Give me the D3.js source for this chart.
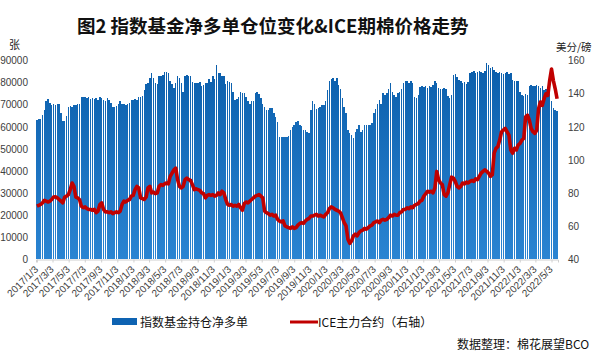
<!DOCTYPE html>
<html><head><meta charset="utf-8">
<script src="https://cdn.jsdelivr.net/npm/d3@7"></script>
<style>body{margin:0;background:#fff}svg{display:block}</style>
</head><body><svg id="c" width="601" height="353"></svg>
<script>
const startDate = "2017/1/3";
// weekly index-fund net long (contracts)
const netLong = [
63200,63500,63500,65400,67400,71800,72400,70700,70000,70200,70000,70500,70300,
66200,62700,62500,65000,69200,69500,69200,69800,70000,70200,70500,73300,73500,
73300,73000,73300,72800,73000,72500,73000,72000,73500,73000,72000,71500,73000,
72000,71000,69200,69000,69500,70500,71500,70500,70500,70000,70500,71000,72300,
72000,72500,72300,73300,73300,74000,76800,79500,80000,82100,84400,82000,80000,
79500,83000,83000,83500,84700,85000,84500,81000,79500,77700,80000,83000,82000,
80000,76000,83000,83500,83000,83000,80500,79800,79800,80000,80500,78500,79000,
79800,80000,81500,80500,83000,81500,88200,84500,84500,83000,83000,79500,81000,
80500,80000,76000,72300,72500,73500,76000,75500,75300,73500,71500,70500,71500,
71500,75300,76000,75000,73200,70500,69200,67700,67700,68500,68500,66300,64500,
62400,55400,55400,55200,55400,55400,55800,58600,60000,61000,62000,62500,61000,
60500,58600,58600,57800,57200,67700,71500,70500,68000,68500,69000,70000,70000,
71500,76800,80600,81800,82000,81000,82000,79100,77000,73200,69200,66300,58600,
57300,56400,55000,57800,59000,60900,57500,58600,61000,61000,61000,61000,61500,
66300,68000,70500,72300,70500,75300,74500,75300,77000,79800,76000,74500,73500,
75300,76000,77000,79800,80600,80600,80000,80600,80000,73500,73000,74500,78000,
78300,78000,78300,77700,78300,78000,79000,80600,80000,77500,77000,77000,77500,
77000,74000,73000,74500,83500,84000,82500,81400,81000,80000,80500,79500,80500,
84500,85000,85500,84500,85000,85500,85000,84500,85500,89000,88000,86500,87000,
86000,85000,84500,85000,84500,84000,84500,85000,84000,84500,81400,81000,80600,
80600,76000,74500,74000,75000,74500,78300,79000,78500,78300,79000,78500,77500,
78300,76800,77000,76800,78300,71500,68500,67700,67000];
// ICE front contract (cents/lb)
const icePrice = [
72,72.5,73,74,75.5,75,74.5,75,76,77.5,77.7,77,76,
75,74,77.5,78,79,82,86,84,77.5,77,76,72,71,
71.5,70.5,70,70,69.5,70,68,69,73,74,70,68.5,68.5,
68,68.5,67.5,68,68.5,68,69,73,75,74.5,75.5,76,78,
78.5,82,84,83,77,76.5,76,77.5,83,84,80,80.5,79.5,
80,84,85,84.5,85.5,86,85.5,90,92,94,95,88,84,
83,84,88,89,88,87.5,85,82,82.5,82,81.5,80,79.5,
77,78.5,79,78.5,79,78,78.5,80,79,81,80,76,73,
72.5,73,72,72.5,72,73,71,69.5,73.5,74.5,74,75,76,
77,78,78.5,79,78,77,69,68,67.5,66.5,67,66,66.5,
64,63,62.5,63,60,59.5,59,58.5,59.5,58.5,59,60.5,61.5,
62,61.5,63,64,64.5,66,66,66.5,67,66,66.5,66,65.5,
67,68,70.5,71.5,71,70,69.5,69,68,65,62,60,52,
49.5,51,54,55,54,56,57,57.5,58.5,58,59,60,60.5,
62,62.5,63,62,63.5,64,63.5,64,65,66.5,66,67,66.5,
66.5,68,68.5,70,70,71,70.5,71.5,71,72.5,73,73.5,75,
75.5,78,79.5,81,80.5,81,80,83,93,88,86,85,79,
78,80,85,89.5,89,87,84,83,84,86,85.5,86.5,86,
87,87.5,87,88.5,88,90,92,93,94,93,92,90,91,
104,107,108,112,117,118,119,117,115,106,104,107,106,
109,110,112,113,126,127,124,119,117,116,118,131,135,
133,137,140,139,148,155,148,143,137];
const tickLabels = [
"2017/1/3","2017/3/3","2017/5/3","2017/7/3","2017/9/3","2017/11/3",
"2018/1/3","2018/3/3","2018/5/3","2018/7/3","2018/9/3","2018/11/3",
"2019/1/3","2019/3/3","2019/5/3","2019/7/3","2019/9/3","2019/11/3",
"2020/1/3","2020/3/3","2020/5/3","2020/7/3","2020/9/3","2020/11/3",
"2021/1/3","2021/3/3","2021/5/3","2021/7/3","2021/9/3","2021/11/3",
"2022/1/3","2022/3/3","2022/5/3"];
const leftTicks = [0,10000,20000,30000,40000,50000,60000,70000,80000,90000];
const rightTicks = [40,60,80,100,120,140,160];

const parse = d3.timeParse("%Y/%m/%d");
const t0 = parse(startDate);
const dates = netLong.map((_, i) => d3.timeDay.offset(t0, 7 * i));
const half = 3.5 * 864e5;
const svg = d3.select("#c");
const x = d3.scaleTime()
  .domain([new Date(+dates[0] - half), new Date(+dates[dates.length - 1] + half)])
  .range([36, 558]);
const yL = d3.scaleLinear().domain([0, 90000]).range([259, 60.7]);
const yR = d3.scaleLinear().domain([40, 160]).range([259, 60.7]);

const defs = svg.append("defs");
const grad = defs.append("linearGradient").attr("id", "bg")
  .attr("gradientUnits", "userSpaceOnUse").attr("x1", 0).attr("y1", 60).attr("x2", 0).attr("y2", 259);
grad.append("stop").attr("offset", "0").attr("stop-color", "#0A5DAA");
grad.append("stop").attr("offset", "1").attr("stop-color", "#2A84D2");

const step = x(dates[1]) - x(dates[0]);
const bw = step * 0.8;
svg.append("g").selectAll("rect").data(netLong).join("rect")
  .attr("x", (d, i) => x(dates[i]) - bw / 2)
  .attr("y", d => yL(d))
  .attr("width", bw)
  .attr("height", d => yL(0) - yL(d))
  .attr("fill", "url(#bg)")
  .attr("shape-rendering", "crispEdges");

// bottom axis
const tickDates = tickLabels.map(s => parse(s));
const gx = svg.append("g").attr("transform", "translate(0,259.5)")
  .call(d3.axisBottom(x).tickValues(tickDates).tickFormat((d, i) => tickLabels[i]).tickSize(3));
gx.select(".domain").attr("stroke", "#d0d0d0");
gx.selectAll(".tick line").attr("stroke", "#d0d0d0");
gx.selectAll(".tick text")
  .attr("x", 0).attr("y", 0).attr("dy", "0.35em")
  .attr("text-anchor", "end")
  .attr("transform", "translate(-1,8) rotate(-45)")
  .attr("font-family", "Liberation Sans, Arial, sans-serif")
  .attr("font-size", 10).attr("fill", "#404040");

// left axis
const gl = svg.append("g").attr("transform", "translate(30,0)")
  .call(d3.axisLeft(yL).tickValues(leftTicks).tickFormat(d3.format("d")).tickSize(0).tickPadding(2));
gl.select(".domain").remove();
gl.selectAll("text").attr("font-family", "Liberation Sans, Arial, sans-serif")
  .attr("font-size", 10).attr("fill", "#404040");

// right axis
const gr = svg.append("g").attr("transform", "translate(566,0)")
  .call(d3.axisRight(yR).tickValues(rightTicks).tickSize(0).tickPadding(2));
gr.select(".domain").remove();
gr.selectAll("text").attr("font-family", "Liberation Sans, Arial, sans-serif")
  .attr("font-size", 10).attr("fill", "#404040");

// price line
const line = d3.line().x((d, i) => x(dates[i])).y(d => yR(d));
svg.append("path").datum(icePrice).attr("d", line)
  .attr("fill", "none").attr("stroke", "#C00000").attr("stroke-width", 3.6)
  .attr("stroke-linejoin", "round");

const cjk = "'Noto Sans CJK SC', sans-serif";
svg.append("text").attr("x", 77).attr("y", 33).attr("font-family", cjk)
  .attr("font-weight", "bold").attr("font-size", 18.5).attr("fill", "#111")
  .text("图2 指数基金净多单仓位变化&ICE期棉价格走势");
svg.append("text").attr("x", 9).attr("y", 49).attr("font-family", cjk)
  .attr("font-size", 11).attr("fill", "#222").text("张");
svg.append("text").attr("x", 556).attr("y", 51).attr("font-family", cjk)
  .attr("font-size", 10.5).attr("fill", "#222").text("美分/磅");

// legend
svg.append("rect").attr("x", 112).attr("y", 318).attr("width", 25).attr("height", 7).attr("fill", "#0E63B2");
svg.append("text").attr("x", 140).attr("y", 326.5).attr("font-family", cjk)
  .attr("font-size", 12).attr("fill", "#111").text("指数基金持仓净多单");
svg.append("line").attr("x1", 290).attr("x2", 318).attr("y1", 322).attr("y2", 322)
  .attr("stroke", "#C00000").attr("stroke-width", 3);
svg.append("text").attr("x", 318).attr("y", 326.5).attr("font-family", cjk)
  .attr("font-size", 12).attr("fill", "#111").text("ICE主力合约（右轴）");
svg.append("text").attr("x", 457).attr("y", 349).attr("font-family", cjk)
  .attr("font-size", 12).attr("fill", "#111").text("数据整理：棉花展望BCO");
</script></body></html>
